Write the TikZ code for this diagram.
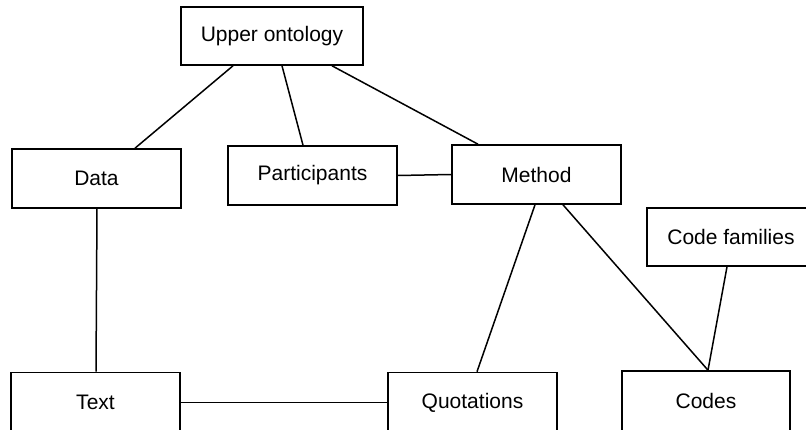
\documentclass[tikz,border=0pt]{standalone}
\usepackage{fontspec}
\setmainfont{Liberation Sans}
\begin{document}
\begin{tikzpicture}[x=1pt,y=-1pt,
  box/.style={draw=black, line width=1.6pt, fill=white, inner sep=0pt,
    font=\fontsize{21}{25}\selectfont, minimum width=#1},
  box/.default=169pt,
  link/.style={draw=black, line width=1.5pt}]
  \useasboundingbox (0,0) rectangle (806,430);
  \clip (0,0) rectangle (806,430);

  % ontology layers
  \node[box=182pt, minimum height=58pt] (uo) at (272,36) {Upper ontology};
  \node[box, minimum height=59pt] (data) at (96.5,178.5) {Data};
  \node[box, minimum height=59pt] (part) at (312.5,175.5) {Participants};
  \node[box, minimum height=59pt] (meth) at (536.5,174.5) {Method};
  \node[box=168pt, minimum height=58pt] (cf) at (731,237) {Code families};
  \node[box, minimum height=60pt] (text) at (95.5,402.5) {Text};
  \node[box, minimum height=60pt] (quot) at (472.5,402.5) {Quotations};
  \node[box=168pt, minimum height=60pt] (codes) at (706,401) {Codes};

  % relations
  \draw[link] ([xshift=-39pt]uo.south) -- ([xshift=38.5pt]data.north);
  \draw[link] ([xshift=10pt]uo.south) -- ([xshift=-9.5pt]part.north);
  \draw[link] ([xshift=60pt]uo.south) -- ([xshift=-58.5pt]meth.north);
  \draw[link] (part.east) -- (meth.west);
  \draw[link] ([xshift=0.5pt]data.south) -- ([xshift=0.5pt]text.north);
  \draw[link] (text.east) -- (quot.west);
  \draw[link] ([xshift=-1.5pt]meth.south) -- ([xshift=4.5pt]quot.north);
  \draw[link] ([xshift=26.5pt]meth.south) -- ([xshift=2pt]codes.north);
  \draw[link] ([xshift=-4pt]cf.south) -- ([xshift=2pt]codes.north);
\end{tikzpicture}
\end{document}
